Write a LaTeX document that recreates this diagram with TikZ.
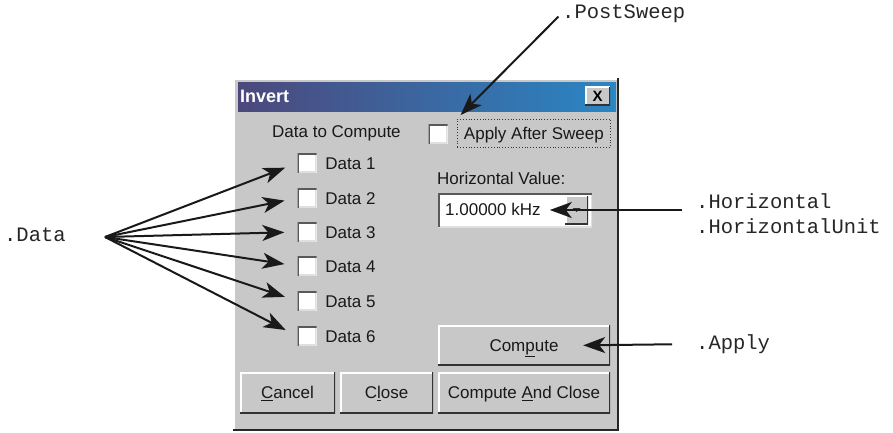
\documentclass[tikz,border=0pt]{standalone}
\usepackage{fontspec}
\setmainfont{Liberation Sans}
\newfontfamily\codefont{Liberation Mono}
\usetikzlibrary{arrows.meta,positioning}

\definecolor{dlggray}{RGB}{200,200,200}
\definecolor{titleleft}{RGB}{76,72,124}
\definecolor{titleright}{RGB}{42,134,196}

\tikzset{
	dlgtext/.style={inner sep=0pt, text height=12.2pt, text depth=0pt, text=black!90, font=\fontsize{17}{17}\selectfont},
	codetext/.style={inner sep=0pt, anchor=west, text height=11.7pt, text depth=0pt, text=black!85, font=\codefont\fontsize{20.5}{20.5}\selectfont},
	raised/.style={fill=dlggray, inner sep=0pt, path picture={
		\draw[white, line width=3pt] (path picture bounding box.south west) |- (path picture bounding box.north east);
		\draw[black!80, line width=3pt] (path picture bounding box.south west) -| (path picture bounding box.north east);}},
	sunken/.style={fill=white, inner sep=0pt, path picture={
		\draw[gray!25, line width=3pt] (path picture bounding box.south west) -| (path picture bounding box.north east);
		\draw[black!65, line width=3pt] (path picture bounding box.south west) |- (path picture bounding box.north east);}},
	callout/.style={-{Stealth[length=22pt, width=16pt, inset=6pt]}, line width=2pt, black!90}
}

\begin{document}
\begin{tikzpicture}[x=1pt, y=-1pt]
	\useasboundingbox (0,0) rectangle (893,432);

	% dialog window
	\fill[dlggray] (233,78) rectangle (619,431);
	\draw[white, line width=2pt] (234,431) -- (234,79) -- (619,79);
	\draw[black!85, line width=2pt] (233,430) -- (618,430) -- (618,78);
	\shade[left color=titleleft, right color=titleright] (238,82) rectangle (616,111);
	\node[inner sep=0pt, anchor=west, text=white, font=\bfseries\fontsize{18}{18}\selectfont] (title) at (240,96) {Invert};
	\node[raised, minimum width=25pt, minimum height=19pt, font=\bfseries\fontsize{15}{15}\selectfont] (xbtn) at (597.5,96) {X};

	\node[dlgtext, anchor=west] (datahead) at (272,131) {Data to Compute};
	\node[sunken, minimum size=19pt] (sweepbox) at (438,134) {};
	\node[dlgtext, draw=black!80, dotted, line width=0.8pt, minimum width=153pt, minimum height=28pt, anchor=west] (sweep) at (457,133) {Apply After Sweep};

	\foreach \i/\y in {1/163,2/198,3/232,4/266,5/301,6/336}{
		\node[sunken, minimum size=19pt] (d\i) at (307,\y) {};
		\node[dlgtext, right=8.5pt of d\i] (dl\i) {Data \i};
	}

	\node[dlgtext, anchor=west] (hvalhead) at (437,178) {Horizontal Value:};
	\node[sunken, minimum width=154pt, minimum height=34pt] (hvalbox) at (515,210) {};
	\node[dlgtext, anchor=west] (hztext) at (445,209.5) {1.00000 kHz};
	\node[raised, minimum width=23pt, minimum height=29pt] (spin) at (576.5,210) {};
	\fill[black!80] (spin.center) ++(-4,-2) -- ++(8,0) -- ++(-4,4) -- cycle;

	\node[raised, dlgtext, minimum width=172pt, minimum height=40pt] (compute) at (524,345) {Com\underline{p}ute};
	\node[raised, dlgtext, minimum width=95pt, minimum height=41pt] (cancel) at (287.5,392.5) {\underline{C}ancel};
	\node[raised, dlgtext, minimum width=93pt, minimum height=41pt] (close) at (386.5,392.5) {C\underline{l}ose};
	\node[raised, dlgtext, minimum width=172pt, minimum height=41pt] (cmpclose) at (524,392.5) {Compute \underline{A}nd Close};

	% property names
	\node[codetext] (post) at (562,13) {.PostSweep};
	\node[codetext] (datalbl) at (4,236) {.Data};
	\node[codetext] (horiz) at (696,202.5) {.Horizontal};
	\node[codetext] (horizunit) at (696,227.5) {.HorizontalUnit};
	\node[codetext] (applylbl) at (696,344) {.Apply};
	\coordinate (hub) at (105,237);

	\draw[callout, shorten <=5pt, shorten >=5pt] (post.west) -- (sweep.north west);
	\foreach \i in {1,...,6}
		\draw[callout, shorten >=13pt] (hub) -- (d\i.west);
	\draw[callout, shorten <=14pt, shorten >=-15pt] (spin.west -| horiz.west) -- (spin.west);
	\draw[callout, shorten <=24pt, shorten >=-27pt] (applylbl.west) -- (compute.east);
\end{tikzpicture}
\end{document}
